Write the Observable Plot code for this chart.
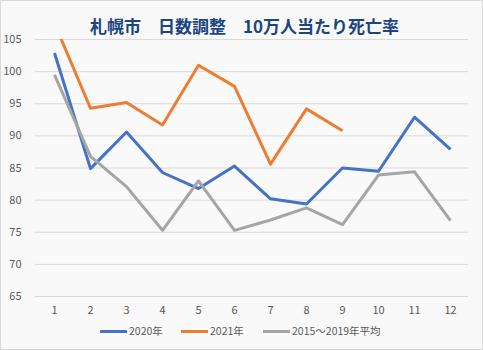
<!DOCTYPE html>
<html><head><meta charset="utf-8">
<script src="https://cdn.jsdelivr.net/npm/d3@7"></script>
<script src="https://cdn.jsdelivr.net/npm/@observablehq/plot@0.6"></script>
<style>
body{margin:0;}
#wrap{width:481px;height:348px;border:1px solid #d9d9d9;background:#f9f9f9;position:relative;overflow:hidden;font-family:"Noto Sans CJK JP","Noto Sans",sans-serif;}
#title{position:absolute;top:14px;left:3px;width:481px;text-align:center;font-size:17px;font-weight:bold;color:#1a4580;line-height:22px;}
#chart{position:absolute;top:30px;left:0;}
#legend{position:absolute;top:321px;left:0;width:481px;font-size:10.5px;color:#595959;line-height:18px;}
.item{position:absolute;top:0;display:flex;align-items:center;}
.sw{display:inline-block;width:27px;height:3px;margin-right:2px;}
</style></head>
<body>
<div id="wrap">
<div id="title">札幌市　日数調整　10万人当たり死亡率</div>
<div id="chart"></div>
<div id="legend"></div>
</div>
<script>
const months = [1,2,3,4,5,6,7,8,9,10,11,12];
const v2020 = [102.9, 84.9, 90.6, 84.3, 81.8, 85.3, 80.2, 79.4, 85.0, 84.5, 92.9, 87.9];
const v2021 = [107.5, 94.3, 95.2, 91.7, 101.0, 97.7, 85.6, 94.2, 90.8];
const vAvg  = [99.5, 86.8, 82.1, 75.3, 83.0, 75.3, 76.9, 78.8, 76.2, 83.9, 84.4, 76.8];
const seriesNames = ["2020年", "2021年", "2015～2019年平均"];
const seriesColors = ["#4472c4", "#ed7d31", "#a5a5a5"];
const yTicks = [65,70,75,80,85,90,95,100,105];

const rows = [];
[v2020, v2021, vAvg].forEach((arr, si) => arr.forEach((v, i) => rows.push({s: seriesNames[si], m: months[i], v})));

const plot = Plot.plot({
  width: 481, height: 292,
  marginLeft: 34, marginRight: 14, marginTop: 8, marginBottom: 27,
  style: {background: "transparent", fontFamily: "'Noto Sans CJK JP','Noto Sans',sans-serif", fontSize: "11px", color: "#595959"},
  x: {type: "point", domain: months, padding: 0.5, label: null},
  y: {domain: [65, 105], label: null},
  color: {domain: seriesNames, range: seriesColors},
  marks: [
    Plot.gridY(yTicks, {stroke: "#d9d9d9", strokeOpacity: 1, strokeWidth: 1}),
    Plot.axisY(yTicks, {tickSize: 0, tickPadding: 14, fill: "#595959", fontSize: 11}),
    Plot.axisX(months, {tickSize: 0, tickPadding: 10, fill: "#595959", fontSize: 11}),
    Plot.line(rows, {x: "m", y: "v", z: "s", stroke: "s", strokeWidth: 3, strokeLinejoin: "round", strokeLinecap: "butt", clip: true})
  ]
});
document.getElementById("chart").appendChild(plot);

const legend = document.getElementById("legend");
const lx = [99, 180, 262];
seriesNames.forEach((n, i) => {
  const d = document.createElement("div");
  d.className = "item";
  d.style.left = lx[i] + "px";
  d.innerHTML = `<span class="sw" style="background:${seriesColors[i]}"></span><span>${n}</span>`;
  legend.appendChild(d);
});
</script>
</body></html>
